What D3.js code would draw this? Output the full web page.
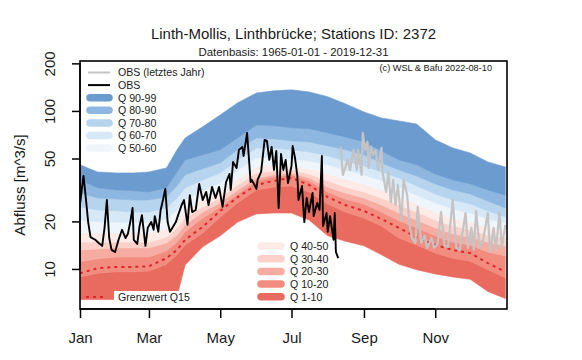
<!DOCTYPE html>
<html><head><meta charset="utf-8">
<script src="https://cdn.jsdelivr.net/npm/d3@7"></script>
<style>
body{margin:0;background:#fff}
svg{display:block}
text{font-family:"Liberation Sans",Arial,Helvetica,sans-serif;fill:#1a1a1a}
</style>
</head><body>
<svg id="c" width="582" height="360"></svg>
<script>
// ---------- data (day of year, 0 = 1 Jan) ----------
const qDays = [0, 15, 31, 46, 59, 74, 83, 90, 105, 120, 135, 151, 166, 181, 196, 212, 227, 243, 258, 273, 288, 304, 319, 334, 349, 364];
const q99 = [45.6, 41.1, 40.5, 40.5, 41.1, 43.6, 56.7, 67.5, 79.4, 94.4, 112.6, 130, 134, 136, 132, 123, 111, 98.6, 90.3, 86.4, 82.7, 65.6, 58.3, 54.2, 47.6, 44.2];
const q90 = [36.6, 32.6, 31.6, 31.2, 30.7, 32.6, 41.1, 49.0, 52.7, 56.7, 67.5, 81.6, 80.6, 78.2, 77.1, 72.6, 68.5, 63.7, 55.8, 49.0, 45.6, 39.9, 36.6, 34.5, 31.6, 29.3];
const q80 = [30.3, 28.1, 27.7, 27.3, 27.3, 28.5, 33.5, 39.4, 43.0, 46.9, 56.7, 67.5, 66.5, 64.6, 63.7, 60.1, 56.7, 52.7, 46.9, 42.3, 38.8, 34.5, 31.6, 29.8, 26.9, 24.3];
const q70 = [24.7, 23.6, 23.3, 22.9, 22.9, 24.3, 28.1, 32.6, 36.6, 40.5, 49.0, 58.3, 58.3, 56.7, 55.0, 51.9, 48.3, 44.9, 41.1, 37.7, 33.5, 29.8, 27.3, 25.8, 23.3, 21.3];
const q60 = [20.4, 19.8, 19.8, 19.6, 19.6, 20.7, 23.6, 27.3, 31.2, 35.0, 42.3, 50.4, 51.2, 49.7, 48.3, 45.6, 42.3, 39.4, 36.1, 33.0, 29.3, 26.2, 24.0, 22.6, 20.7, 19.6];
const q50 = [16.9, 16.9, 16.9, 16.9, 16.9, 17.9, 20.4, 23.6, 27.3, 30.7, 37.1, 44.2, 45.6, 44.2, 43.0, 39.9, 37.1, 34.5, 31.6, 28.5, 25.8, 22.9, 21.0, 19.8, 18.5, 17.7];
const q40 = [14.8, 14.8, 14.8, 14.8, 14.8, 15.9, 18.2, 21.0, 24.7, 28.1, 34.0, 40.5, 41.7, 42.3, 39.9, 36.1, 33.0, 30.7, 28.1, 25.4, 22.9, 20.4, 18.7, 17.7, 16.4, 15.7];
const q30 = [13.2, 13.4, 13.6, 13.6, 13.6, 14.6, 16.4, 19.0, 22.9, 26.2, 31.6, 37.7, 39.4, 40.5, 37.7, 33.0, 30.3, 28.1, 25.4, 22.6, 20.4, 18.2, 16.7, 15.9, 14.8, 14.0];
const q20 = [11.1, 11.6, 11.9, 11.9, 11.9, 13.0, 14.8, 17.2, 21.0, 24.7, 29.8, 36.1, 38.2, 39.4, 36.1, 30.7, 27.7, 25.8, 22.9, 20.2, 18.2, 16.2, 14.8, 14.2, 12.8, 12.1];
const q15 = [9.4, 10.1, 10.3, 10.3, 10.4, 11.7, 13.2, 15.3, 18.5, 23.3, 28.5, 34.0, 36.1, 37.7, 34.0, 28.5, 25.4, 23.3, 20.7, 18.2, 15.9, 14.2, 13.2, 12.6, 10.9, 9.6];
const q10 = [8.9, 9.4, 9.6, 9.6, 9.7, 10.7, 12.3, 14.2, 16.9, 21.3, 26.2, 31.6, 33.0, 33.5, 30.7, 25.8, 22.9, 21.0, 18.7, 15.7, 14.2, 12.6, 11.7, 11.2, 9.9, 8.8];
const q01 = [6.4, 6.4, 6.4, 6.4, 6.5, 6.5, 6.7, 10.6, 13.8, 16.2, 19.8, 22.3, 22.6, 22.6, 20.4, 16.2, 15.0, 14.0, 12.3, 10.7, 9.9, 9.3, 8.9, 8.6, 7.2, 6.5];

// observed current year (black)
const obsDay = [0,2,3,5,7,9,13,16,19,21,23,25,27,30,33,36,39,41,43,45,46,49,51,53,56,58,61,63,64,67,69,71,73,75,77,80,82,84,87,89,92,94,96,99,102,105,108,110,113,116,119,122,125,128,129,131,134,136,139,140,143,146,147,151,152,155,158,160,162,164,166,168,170,172,174,176,178,181,182,184,186,187,190,192,194,196,199,200,203,205,207,208,211,212,214,217,218,219,221];
const obsQ = [25.4,34.0,38.8,28.1,19.8,15.9,15.3,14.6,14.0,18.2,27.3,15.7,13.2,12.8,15.3,17.7,15.7,16.7,19.8,24.3,15.3,14.4,18.7,21.9,14.0,18.2,19.8,17.7,21.6,17.2,23.6,27.3,32.1,19.8,17.2,18.7,19.8,21.9,25.4,27.3,19.0,29.3,22.9,23.6,34.5,27.3,30.7,25.4,33.0,28.1,33.0,24.7,35.5,39.9,31.6,47.6,43.6,56.7,59.2,51.9,72.6,35.5,36.6,32.1,36.6,41.1,65.6,64.6,49.0,59.2,42.3,55.8,24.3,53.4,42.3,49.0,35.0,44.9,60.1,50.4,38.8,27.3,33.5,19.8,28.1,22.9,30.3,21.6,26.2,23.6,51.9,18.7,22.6,17.2,21.6,15.3,22.6,12.8,11.7];

// observed last year (grey), remainder of the year
const prevDay = [223,225,229,231,234,237,238,241,242,244,246,247,249,251,253,255,258,259,262,264,266,268,270,272,275,277,280,282,284,287,289,292,295,297,301,303,306,309,312,315,319,322,325,330,332,335,337,339,342,345,349,351,354,356,359,361,364];
const prevQ = [59.2,39.4,49.0,42.3,56.7,42.3,56.7,39.4,72.6,56.7,63.7,43.6,59.2,52.7,56.7,42.3,58.3,40.5,30.7,41.1,26.5,36.6,25.4,34.0,20.4,36.6,29.3,19.0,15.7,14.6,24.7,14.6,16.2,13.6,15.7,13.6,14.4,22.9,14.0,13.8,27.3,13.6,13.2,22.6,13.6,18.2,13.2,23.3,13.6,15.3,22.6,12.8,18.2,13.2,22.9,13.6,19.0];

const monthTickDays = [0, 59, 120, 181, 243, 304];
const monthLabels = ["Jan", "Mar", "May", "Jul", "Sep", "Nov"];
const yTicks = [10, 20, 50, 100, 200];

const bandLabels = ["Q 1-10","Q 10-20","Q 20-30","Q 30-40","Q 40-50","Q 50-60","Q 60-70","Q 70-80","Q 80-90","Q 90-99"];
const bandColors = ["#e96a5e","#f28c7f","#f7aca1","#fbd0c8","#fdebe7","#eef6fc","#d7e9f7","#b6d4ee","#8db7e0","#6b9bcf"];

// ---------- chart ----------
const svg = d3.select("#c");
const L = 80, R = 507, T = 61, B = 309;
const x = d3.scaleLinear().domain([0, 365]).range([L, 506.5]);
const y = d3.scaleLog().domain([5.58, 207]).range([B, T]);

svg.append("defs").append("clipPath").attr("id","clip")
  .append("rect").attr("x",L).attr("y",T).attr("width",R-L).attr("height",B-T);
const plot = svg.append("g").attr("clip-path","url(#clip)");

const qs = [q01, q10, q20, q30, q40, q50, q60, q70, q80, q90, q99];
const idx = d3.range(qDays.length);
for (let b = 0; b < 10; b++) {
  const lo = qs[b], hi = qs[b+1];
  const area = d3.area().x(i => x(qDays[i])).y0(i => y(lo[i])).y1(i => y(hi[i]));
  plot.append("path").attr("d", area(idx)).attr("fill", bandColors[b]).attr("stroke", bandColors[b]).attr("stroke-width", 0.6);
}
plot.append("path")
  .attr("d", d3.line().x(i => x(qDays[i])).y(i => y(q15[i]))(idx))
  .attr("fill","none").attr("stroke","#e0242a").attr("stroke-width",2).attr("stroke-dasharray","3,4");

// ---------- legends ----------
const lg = svg.append("g");
const fs = 10.6;
const topRows = [
  {label:"OBS (letztes Jahr)", type:"line", color:"#c4c4c4", w:2},
  {label:"OBS", type:"line", color:"#000", w:2},
  {label:"Q 90-99", type:"sw", color:bandColors[9]},
  {label:"Q 80-90", type:"sw", color:bandColors[8]},
  {label:"Q 70-80", type:"sw", color:bandColors[7]},
  {label:"Q 60-70", type:"sw", color:bandColors[6]},
  {label:"Q 50-60", type:"sw", color:bandColors[5]}
];
topRows.forEach((r, i) => {
  const cy = 72.5 + i * 12.6;
  if (r.type === "line") {
    lg.append("line").attr("x1",88).attr("x2",110).attr("y1",cy).attr("y2",cy)
      .attr("stroke",r.color).attr("stroke-width",r.w);
  } else {
    lg.append("line").attr("x1",90).attr("x2",109).attr("y1",cy).attr("y2",cy)
      .attr("stroke",r.color).attr("stroke-width",7.5).attr("stroke-linecap","round");
  }
  lg.append("text").attr("x",118).attr("y",cy+3.8).attr("font-size",fs).text(r.label);
});
const botRows = [4,3,2,1,0];
botRows.forEach((b, i) => {
  const cy = 246 + i * 12.7;
  lg.append("line").attr("x1",261).attr("x2",281).attr("y1",cy).attr("y2",cy)
    .attr("stroke",bandColors[b]).attr("stroke-width",7.5).attr("stroke-linecap","round");
  lg.append("text").attr("x",290).attr("y",cy+3.8).attr("font-size",fs).text(bandLabels[b]);
});
lg.append("rect").attr("x",114).attr("y",291).attr("width",80).attr("height",14).attr("fill","#fff");
lg.append("line").attr("x1",86).attr("x2",106).attr("y1",297).attr("y2",297)
  .attr("stroke","#e0242a").attr("stroke-width",2).attr("stroke-dasharray","3,4");
lg.append("text").attr("x",118).attr("y",300.8).attr("font-size",fs).text("Grenzwert Q15");

// ---------- observation lines ----------
const obsLine = d3.line().x(i => x(prevDay[i])).y(i => y(prevQ[i]));
plot.append("path").attr("d", obsLine(d3.range(prevDay.length)))
  .attr("fill","none").attr("stroke","#c4c4c4").attr("stroke-width",2.2).attr("stroke-linejoin","round");
const curLine = d3.line().x(i => x(obsDay[i])).y(i => y(obsQ[i]));
plot.append("path").attr("d", curLine(d3.range(obsDay.length)))
  .attr("fill","none").attr("stroke","#000").attr("stroke-width",1.9).attr("stroke-linejoin","round");

// ---------- axes ----------
const xAxis = d3.axisBottom(x).tickValues(monthTickDays).tickFormat((d,i) => monthLabels[i]).tickSize(9).tickSizeOuter(0);
const gx = svg.append("g").attr("transform",`translate(0,${B})`).call(xAxis);
gx.select(".domain").attr("d", `M${x(0)},0H${x(304)}`).attr("stroke","#000").attr("stroke-width",1.5);
gx.selectAll(".tick line").attr("stroke","#000").attr("stroke-width",1.5);
gx.selectAll(".tick text").attr("y",34).attr("dy",0).attr("font-size",15).attr("fill","#1a1a1a")
  .attr("font-family",'"Liberation Sans",Arial,sans-serif');

const yAxis = d3.axisLeft(y).tickValues(yTicks).tickFormat(d3.format("d")).tickSize(8).tickSizeOuter(0);
const gy = svg.append("g").attr("transform",`translate(${L},0)`).call(yAxis);
gy.select(".domain").attr("d", `M0,${y(10)}V${y(200)}`).attr("stroke","#000").attr("stroke-width",1.5);
gy.selectAll(".tick line").attr("stroke","#000").attr("stroke-width",1.5);
gy.selectAll(".tick text").attr("transform","rotate(-90)").attr("x",0).attr("y",-25).attr("dy",0)
  .attr("text-anchor","middle").attr("font-size",15).attr("fill","#1a1a1a")
  .attr("font-family",'"Liberation Sans",Arial,sans-serif');

svg.append("rect").attr("x",L).attr("y",T).attr("width",R-L).attr("height",B-T)
  .attr("fill","none").attr("stroke","#000").attr("stroke-width",1.6);

svg.append("text").attr("transform","translate(25,185) rotate(-90)").attr("text-anchor","middle")
  .attr("font-size",15).text("Abfluss [m^3/s]");

// ---------- titles ----------
svg.append("text").attr("x",(L+R)/2).attr("y",38.5).attr("text-anchor","middle").attr("font-size",15)
  .text("Linth-Mollis, Linthbrücke; Stations ID: 2372");
svg.append("text").attr("x",(L+R)/2).attr("y",56).attr("text-anchor","middle").attr("font-size",11.4)
  .text("Datenbasis: 1965-01-01 - 2019-12-31");
svg.append("text").attr("x",492).attr("y",70.5).attr("text-anchor","end").attr("font-size",9.2).attr("fill","#333")
  .text("(c) WSL & Bafu 2022-08-10");
</script>
</body></html>
